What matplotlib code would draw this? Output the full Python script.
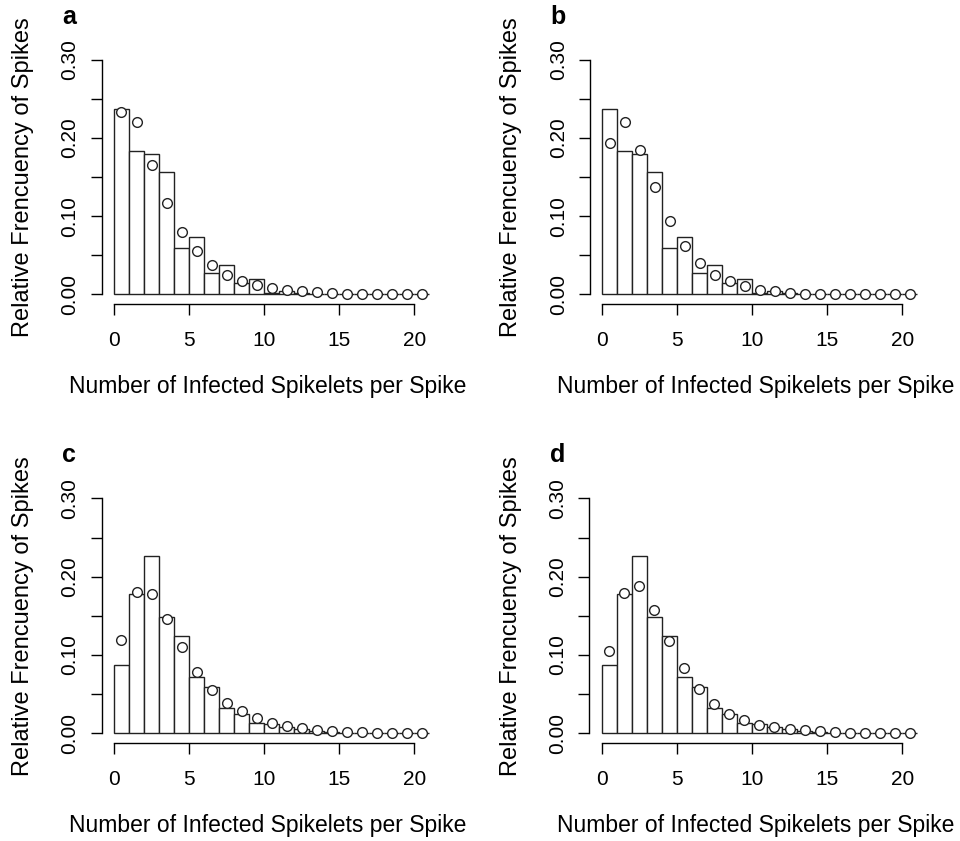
import numpy as np
import matplotlib as mpl
import matplotlib.pyplot as plt

mpl.rcParams.update({
    "font.family": ["Liberation Sans", "DejaVu Sans"],
    "font.size": 15,
    "axes.linewidth": 1.0,
})

# observed relative frequencies (bins 0..20)
obs_ab = [0.237, 0.1835, 0.179, 0.157, 0.059, 0.073, 0.027, 0.0375, 0.014, 0.019,
          0.002, 0.004, 0.002, 0.001, 0, 0, 0, 0, 0, 0, 0]
obs_cd = [0.0868, 0.1774, 0.226, 0.149, 0.124, 0.0715, 0.059, 0.032, 0.024, 0.0128,
          0.0115, 0.0085, 0.006, 0.0034, 0.0017, 0.001, 0, 0, 0, 0, 0]

# fitted frequencies
fit_a = [0.233, 0.220, 0.166, 0.117, 0.080, 0.055, 0.037, 0.025, 0.017, 0.0115,
         0.0077, 0.005, 0.0038, 0.0025, 0.0013, 0.0008, 0.0005, 0.0003, 0.0002, 0.0001, 0.0001]
fit_b = [0.194, 0.220, 0.185, 0.137, 0.094, 0.062, 0.040, 0.025, 0.0166, 0.010,
         0.006, 0.004, 0.0017, 0.001, 0.0005, 0.0003, 0.0002, 0.0001, 0.0001, 0, 0]
fit_c = [0.119, 0.181, 0.178, 0.1455, 0.110, 0.078, 0.055, 0.039, 0.028, 0.019,
         0.0136, 0.0094, 0.0064, 0.0047, 0.003, 0.002, 0.0013, 0.0008, 0.0005, 0.0003, 0.0002]
fit_d = [0.105, 0.179, 0.1875, 0.158, 0.118, 0.083, 0.056, 0.038, 0.025, 0.017,
         0.011, 0.008, 0.006, 0.0038, 0.0025, 0.0013, 0.0008, 0.0005, 0.0003, 0.0002, 0.0001]

bins = np.arange(21)

panels = [
    ("a", obs_ab, fit_a, [0.1059, 0.6389, 0.3464, 0.3010]),
    ("b", obs_ab, fit_b, [0.6146, 0.6389, 0.3458, 0.3010]),
    ("c", obs_cd, fit_c, [0.1059, 0.1169, 0.3464, 0.3017]),
    ("d", obs_cd, fit_d, [0.6140, 0.1169, 0.3464, 0.3017]),
]

fig = plt.figure(figsize=(9.6, 8.41), dpi=100)

for letter, obs, fit, pos in panels:
    ax = fig.add_axes(pos)
    ax.bar(bins, obs, width=1.0, align="edge", color="white",
           edgecolor="#222222", linewidth=1.0, zorder=2)
    ax.plot(bins + 0.5, fit, linestyle="none", marker="o", markersize=7,
            markerfacecolor="white", markeredgecolor="#222222",
            markeredgewidth=1.0, zorder=3)

    ax.set_xlim(-0.82, 21.32)
    ax.set_ylim(-0.012, 0.312)
    for s in ["top", "right"]:
        ax.spines[s].set_visible(False)
    ax.spines["left"].set_bounds(0, 0.3)
    ax.spines["bottom"].set_bounds(0, 20)

    ax.set_xticks([0, 5, 10, 15, 20])
    ax.set_yticks(np.arange(0, 0.31, 0.05))
    ax.set_yticklabels(["0.00", "", "0.10", "", "0.20", "", "0.30"],
                       rotation=90, va="center")
    ax.tick_params(axis="x", length=8, width=1.0, pad=12, labelsize=15)
    ax.tick_params(axis="y", length=8, width=1.0, pad=8, labelsize=15)

    ax.set_xlabel("Number of Infected Spikelets per Spike", fontsize=16.5, labelpad=18)
    ax.set_ylabel("Relative Frencuency of Spikes", fontsize=17, labelpad=19)

    ax.text(-0.12, 1.105, letter, transform=ax.transAxes, fontsize=18,
            fontweight="bold", ha="left", va="baseline")

plt.savefig("out.png", dpi=100)
